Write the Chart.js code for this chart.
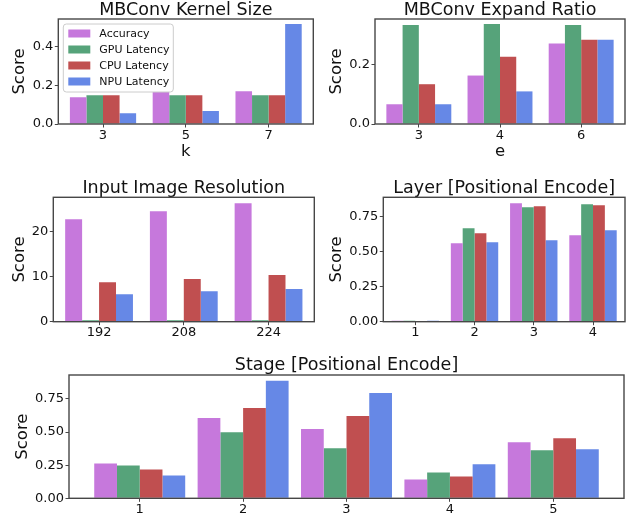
<!DOCTYPE html>
<html lang="en">
<head>
  <meta charset="UTF-8">
  <title>Search space scores</title>
  <script src="https://cdn.jsdelivr.net/npm/chart.js"></script>
  <style>
    html, body { margin: 0; padding: 0; background: #fff; }
    body { width: 635px; height: 516px; position: relative; overflow: hidden; }
    .panel { position: absolute; }
  </style>
</head>
<body>
  <div class="panel" id="p1"><canvas id="c1"></canvas></div>
  <div class="panel" id="p2"><canvas id="c2"></canvas></div>
  <div class="panel" id="p3"><canvas id="c3"></canvas></div>
  <div class="panel" id="p4"><canvas id="c4"></canvas></div>
  <div class="panel" id="p5"><canvas id="c5"></canvas></div>

  <script>
    // series shared by every panel
    const seriesNames = ['Accuracy', 'GPU Latency', 'CPU Latency', 'NPU Latency'];
    const seriesColors = ['#c678dc', '#56a37a', '#c04f50', '#6688e6'];

    // MBConv kernel size
    const kernelCats = ['3', '5', '7'];
    const kernelAcc = [0.138, 0.166, 0.169];
    const kernelGpu = [0.149, 0.149, 0.149];
    const kernelCpu = [0.149, 0.149, 0.149];
    const kernelNpu = [0.056, 0.067, 0.516];

    // MBConv expand ratio
    const expandCats = ['3', '4', '6'];
    const expandAcc = [0.066, 0.162, 0.269];
    const expandGpu = [0.331, 0.334, 0.331];
    const expandCpu = [0.133, 0.225, 0.282];
    const expandNpu = [0.066, 0.109, 0.282];

    // input image resolution
    const resCats = ['192', '208', '224'];
    const resAcc = [22.8, 24.6, 26.4];
    const resGpu = [0.35, 0.35, 0.35];
    const resCpu = [8.8, 9.5, 10.4];
    const resNpu = [6.1, 6.8, 7.3];

    // layer positional encode
    const layerCats = ['1', '2', '3', '4'];
    const layerAcc = [0.007, 0.562, 0.848, 0.619];
    const layerGpu = [0.007, 0.669, 0.819, 0.840];
    const layerCpu = [0.005, 0.633, 0.826, 0.833];
    const layerNpu = [0.007, 0.569, 0.583, 0.655];

    // stage positional encode
    const stageCats = ['1', '2', '3', '4', '5'];
    const stageAcc = [0.263, 0.605, 0.522, 0.142, 0.423];
    const stageGpu = [0.248, 0.499, 0.377, 0.195, 0.362];
    const stageCpu = [0.218, 0.681, 0.620, 0.165, 0.453];
    const stageNpu = [0.172, 0.886, 0.795, 0.256, 0.370];

    Chart.defaults.font.family = '"DejaVu Sans", sans-serif';
    Chart.defaults.color = '#111111';

    const FRAME = '#474747';

    const framePlugin = {
      id: 'frame',
      afterDraw(chart) {
        const a = chart.chartArea, c = chart.ctx;
        c.save();
        c.strokeStyle = FRAME;
        c.lineWidth = 1.4;
        c.strokeRect(a.left, a.top, a.right - a.left, a.bottom - a.top);
        c.restore();
      }
    };

    // matplotlib-like boxed legend in the upper left of the plot
    const boxLegend = {
      id: 'boxLegend',
      afterDraw(chart) {
        const a = chart.chartArea, c = chart.ctx;
        const x = a.left + 5, y = a.top + 5, w = 110, h = 68;
        c.save();
        c.fillStyle = 'rgba(255,255,255,0.85)';
        c.strokeStyle = '#cccccc';
        c.lineWidth = 1;
        c.beginPath();
        c.roundRect(x, y, w, h, 3);
        c.fill();
        c.stroke();
        c.font = '11px "DejaVu Sans", sans-serif';
        c.textBaseline = 'middle';
        chart.data.datasets.forEach((ds, i) => {
          const cy = y + 9.5 + i * 16;
          c.fillStyle = ds.backgroundColor;
          c.fillRect(x + 5, cy - 4, 22, 8);
          c.fillStyle = '#111111';
          c.fillText(ds.label, x + 36, cy + 0.5);
        });
        c.restore();
      }
    };

    function makePanel(p) {
      const el = document.getElementById(p.div);
      el.style.left = p.box.l + 'px';
      el.style.top = p.box.t + 'px';
      el.style.width = (p.box.r - p.box.l) + 'px';
      el.style.height = (p.box.b - p.box.t) + 'px';

      const yw = p.frame.x - p.box.l;
      const th = p.frame.y - p.box.t;
      const xh = p.box.b - (p.frame.y + p.frame.h);
      const rp = p.box.r - (p.frame.x + p.frame.w);
      const titleSize = 17.5;
      const titleTop = p.titleMid - p.box.t - titleSize / 2;

      const n = p.cats.length;
      const datasets = p.series.map((vals, i) => ({
        label: seriesNames[i],
        data: vals.map((v, j) => ({ x: j, y: v })),
        backgroundColor: seriesColors[i],
        borderWidth: 0,
        categoryPercentage: p.group,
        barPercentage: 1.0
      }));

      const xScale = {
        type: 'linear',
        offset: false,
        min: -p.margin,
        max: n - 1 + p.margin,
        grid: { offset: false, drawOnChartArea: false, drawTicks: true, tickLength: 3.5, tickColor: FRAME },
        border: { display: false },
        ticks: {
          stepSize: 1,
          includeBounds: false,
          padding: 0,
          maxRotation: 0,
          font: { size: 13 },
          callback: v => Number.isInteger(v) ? p.cats[v] : ''
        },
        afterFit(s) { s.height = xh; }
      };
      if (p.xTitle) {
        xScale.title = {
          display: true, text: p.xTitle,
          font: { size: 16.5, lineHeight: 1.2 },
          padding: { top: 0, bottom: p.box.b - p.xTitleMid - 9.9 }
        };
      }

      return new Chart(document.getElementById(p.canvas), {
        type: 'bar',
        data: { datasets },
        options: {
          responsive: true,
          maintainAspectRatio: false,
          animation: false,
          layout: { padding: { left: 0, top: 0, bottom: 0, right: rp } },
          plugins: {
            legend: { display: false },
            tooltip: { enabled: false },
            title: {
              display: true,
              text: p.title,
              fullSize: false,
              font: { size: titleSize, weight: 'normal', lineHeight: 1 },
              padding: { top: titleTop, bottom: th - titleTop - titleSize }
            }
          },
          scales: {
            x: xScale,
            y: {
              type: 'linear',
              min: 0,
              max: p.ymax,
              grid: { drawOnChartArea: false, drawTicks: true, tickLength: 3.5, tickColor: FRAME },
              border: { display: false },
              title: {
                display: true, text: 'Score',
                font: { size: 16.5, lineHeight: 1.2 },
                padding: { top: p.yTitleMid - p.box.l - 9.9, bottom: 0 }
              },
              ticks: {
                stepSize: p.ystep,
                includeBounds: false,
                padding: 1.5,
                font: { size: 13 },
                callback: v => v.toFixed(p.decimals)
              },
              afterFit(s) { s.width = yw; }
            }
          }
        },
        plugins: p.legend ? [framePlugin, boxLegend] : [framePlugin]
      });
    }

    makePanel({
      div: 'p1', canvas: 'c1', title: 'MBConv Kernel Size', xTitle: 'k',
      box: { l: 0, t: 0, r: 318, b: 164 }, frame: { x: 58.3, y: 19, w: 255, h: 105 },
      titleMid: 10, yTitleMid: 20, xTitleMid: 152,
      cats: kernelCats, series: [kernelAcc, kernelGpu, kernelCpu, kernelNpu],
      margin: 0.54, group: 0.8, ymax: 0.542, ystep: 0.2, decimals: 1, legend: true
    });
    makePanel({
      div: 'p2', canvas: 'c2', title: 'MBConv Expand Ratio', xTitle: 'e',
      box: { l: 318, t: 0, r: 635, b: 164 }, frame: { x: 375, y: 19, w: 250, h: 105 },
      titleMid: 10, yTitleMid: 336.8, xTitleMid: 152,
      cats: expandCats, series: [expandAcc, expandGpu, expandCpu, expandNpu],
      margin: 0.54, group: 0.8, ymax: 0.351, ystep: 0.2, decimals: 1
    });
    makePanel({
      div: 'p3', canvas: 'c3', title: 'Input Image Resolution',
      box: { l: 0, t: 170, r: 318, b: 346 }, frame: { x: 53.3, y: 197.3, w: 261, h: 124.4 },
      titleMid: 188, yTitleMid: 20,
      cats: resCats, series: [resAcc, resGpu, resCpu, resNpu],
      margin: 0.54, group: 0.8, ymax: 27.7, ystep: 10, decimals: 0
    });
    makePanel({
      div: 'p4', canvas: 'c4', title: 'Layer [Positional Encode]',
      box: { l: 318, t: 170, r: 635, b: 346 }, frame: { x: 383.3, y: 197.3, w: 241.7, h: 124.4 },
      titleMid: 188, yTitleMid: 336.5,
      cats: layerCats, series: [layerAcc, layerGpu, layerCpu, layerNpu],
      margin: 0.54, group: 0.8, ymax: 0.89, ystep: 0.25, decimals: 2
    });
    makePanel({
      div: 'p5', canvas: 'c5', title: 'Stage [Positional Encode]',
      box: { l: 0, t: 350, r: 635, b: 516 }, frame: { x: 69, y: 375, w: 555, h: 123.3 },
      titleMid: 365.8, yTitleMid: 22.4,
      cats: stageCats, series: [stageAcc, stageGpu, stageCpu, stageNpu],
      margin: 0.684, group: 0.88, ymax: 0.93, ystep: 0.25, decimals: 2
    });
  </script>
</body>
</html>
